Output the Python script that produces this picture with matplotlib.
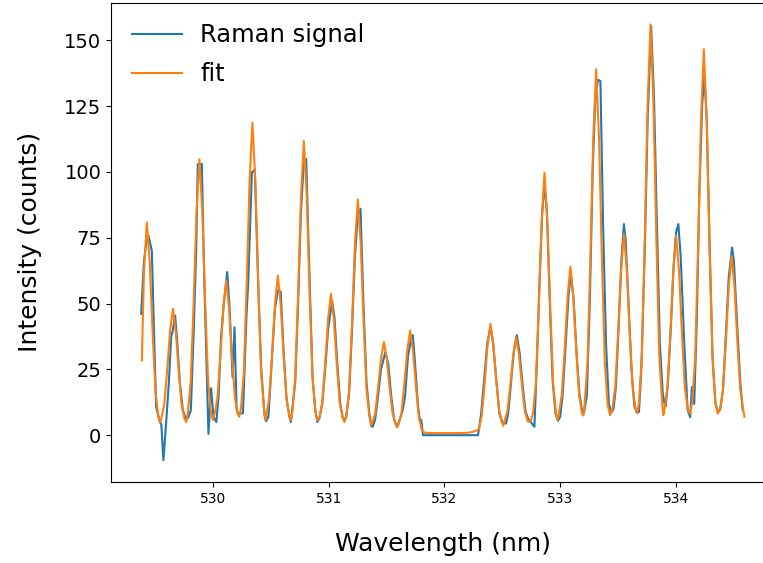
import matplotlib
matplotlib.use("Agg")
import matplotlib.pyplot as plt

# measured Raman signal (wavelength in nm, counts)
wl_signal = [
    529.381, 529.405, 529.425, 529.444, 529.473, 529.49, 529.51, 529.539, 529.555, 529.573, 529.597,
    529.62, 529.64, 529.655, 529.674, 529.69, 529.715, 529.741, 529.77, 529.79, 529.81,
    529.835, 529.856, 529.87, 529.905, 529.925, 529.942, 529.962, 529.985, 530.005, 530.03,
    530.05, 530.07, 530.095, 530.124, 530.145, 530.17, 530.187, 530.205, 530.216, 530.26,
    530.29, 530.305, 530.337, 530.362, 530.39, 530.417, 530.445, 530.46, 530.48,
    530.511, 530.536, 530.561, 530.586, 530.611, 530.636, 530.661, 530.674,
    530.711, 530.736, 530.761, 530.786, 530.806, 530.836, 530.861, 530.886, 530.903,
    530.92, 530.945, 530.97, 530.995, 531.03, 531.05, 531.075, 531.1, 531.12, 531.136,
    531.152, 531.177, 531.202, 531.227, 531.252, 531.275, 531.302, 531.327, 531.352, 531.37,
    531.38, 531.402, 531.427, 531.452, 531.49, 531.515, 531.54, 531.565, 531.59,
    531.615, 531.64, 531.66, 531.685, 531.71, 531.727, 531.745, 531.77, 531.785, 531.8, 531.815,
    531.9, 532.0, 532.1, 532.2, 532.29,
    532.317, 532.34, 532.37, 532.397, 532.42, 532.45, 532.475, 532.5, 532.532,
    532.55, 532.575, 532.6, 532.625, 532.65, 532.675, 532.7, 532.725, 532.745, 532.777,
    532.8, 532.82, 532.845, 532.864, 532.885, 532.91, 532.935, 532.96, 532.98,
    533.0, 533.02, 533.045, 533.07, 533.09, 533.115, 533.14, 533.165, 533.19, 533.205,
    533.23, 533.255, 533.28, 533.3, 533.325, 533.347, 533.37, 533.395, 533.42, 533.44,
    533.46, 533.48, 533.505, 533.53, 533.55, 533.565, 533.59, 533.615, 533.64, 533.66, 533.68,
    533.7, 533.73, 533.755, 533.785, 533.81, 533.835, 533.86, 533.885, 533.9, 533.91,
    533.93, 533.955, 533.98, 534.0, 534.02, 534.04, 534.071, 534.1, 534.122, 534.137, 534.157,
    534.18, 534.2, 534.225, 534.245, 534.265, 534.29, 534.315, 534.34, 534.36,
    534.38, 534.405, 534.43, 534.455, 534.484, 534.5, 534.53, 534.555, 534.576,
]
signal = [
    46.1, 66.0, 73.0, 75.8, 70.0, 42.0, 10.7, 5.7, 4.0, -9.5, 5.0,
    20.0, 37.2, 40.0, 45.5, 37.0, 20.0, 9.5, 5.7, 7.0, 9.5,
    40.0, 70.0, 103.0, 103.0, 60.0, 32.0, 0.5, 17.8, 7.0, 5.0,
    15.0, 37.0, 50.0, 62.0, 48.0, 22.0, 41.0, 10.0, 8.3, 8.3,
    45.0, 57.5, 99.7, 101.0, 60.0, 25.9, 8.0, 5.3, 7.0,
    30.0, 48.0, 55.0, 54.5, 32.0, 14.0, 7.0, 5.0,
    20.0, 50.0, 85.0, 104.0, 105.0, 58.0, 22.0, 9.0, 5.0,
    6.5, 12.0, 25.0, 40.0, 51.0, 45.0, 27.0, 12.0, 7.0, 5.5,
    7.0, 16.0, 40.0, 68.0, 84.0, 86.0, 48.0, 20.0, 8.0, 3.4,
    3.2, 6.0, 15.0, 25.0, 31.6, 27.0, 15.0, 6.0, 3.2,
    6.0, 9.5, 15.0, 30.0, 36.0, 38.0, 28.0, 12.0, 6.3, 5.7, 0.0,
    0.0, 0.0, 0.0, 0.0, 0.0,
    8.2, 20.0, 35.0, 41.0, 35.0, 20.0, 8.0, 5.0, 4.4,
    8.0, 20.0, 32.0, 38.0, 31.0, 19.0, 9.0, 6.0, 5.0, 3.2,
    30.0, 57.5, 85.0, 95.0, 85.0, 50.0, 20.0, 8.0, 5.5,
    7.0, 15.0, 33.0, 52.0, 61.4, 52.0, 32.0, 16.0, 9.0, 8.5,
    15.0, 50.0, 100.0, 125.0, 135.0, 134.5, 80.0, 35.0, 12.0, 8.5,
    10.0, 18.0, 42.0, 68.0, 80.2, 74.0, 50.0, 25.0, 11.0, 8.8, 8.8,
    25.0, 70.0, 120.0, 155.4, 128.0, 80.0, 35.0, 16.0, 12.0, 11.0,
    20.0, 41.0, 65.0, 77.0, 80.2, 68.0, 34.8, 9.6, 6.8, 18.3, 11.9,
    45.0, 90.0, 125.0, 137.0, 120.0, 72.0, 30.0, 12.0, 9.3,
    9.5, 17.0, 38.0, 60.0, 71.3, 66.0, 40.0, 20.0, 9.5,
]

# fitted curve
wl_fit = [
    529.387, 529.405, 529.43, 529.455, 529.48, 529.505, 529.53, 529.5425,
    529.555, 529.58, 529.605, 529.63, 529.655, 529.68, 529.705, 529.73, 529.755, 529.77,
    529.784, 529.809, 529.834, 529.859, 529.884, 529.909, 529.934, 529.959, 529.984, 530.0,
    530.015, 530.04, 530.065, 530.09, 530.115, 530.14, 530.165, 530.19, 530.215, 530.228,
    530.242, 530.267, 530.292, 530.317, 530.342, 530.367, 530.392, 530.417, 530.442, 530.452,
    530.461, 530.486, 530.511, 530.536, 530.561, 530.586, 530.611, 530.636, 530.661, 530.674,
    530.686, 530.711, 530.736, 530.761, 530.786, 530.811, 530.836, 530.861, 530.886, 530.903,
    530.92, 530.945, 530.97, 530.995, 531.02, 531.045, 531.07, 531.095, 531.12, 531.136,
    531.152, 531.177, 531.202, 531.227, 531.252, 531.277, 531.302, 531.327, 531.352, 531.365,
    531.377, 531.402, 531.427, 531.452, 531.477, 531.502, 531.527, 531.552, 531.577, 531.59,
    531.604, 531.629, 531.654, 531.679, 531.704, 531.729, 531.754, 531.779, 531.804, 531.83,
    531.9, 532.0, 532.1, 532.2, 532.25,
    532.297, 532.322, 532.347, 532.372, 532.397, 532.422, 532.447, 532.472, 532.497, 532.508,
    532.519, 532.544, 532.569, 532.594, 532.619, 532.644, 532.669, 532.694, 532.719, 532.74,
    532.764, 532.789, 532.814, 532.839, 532.864, 532.889, 532.914, 532.939, 532.964, 532.976,
    532.988, 533.013, 533.038, 533.063, 533.088, 533.113, 533.138, 533.163, 533.188, 533.2,
    533.21, 533.235, 533.26, 533.285, 533.31, 533.335, 533.36, 533.385, 533.41, 533.43,
    533.45, 533.475, 533.5, 533.525, 533.55, 533.575, 533.6, 533.625, 533.65, 533.665,
    533.68, 533.705, 533.73, 533.755, 533.78, 533.805, 533.83, 533.855, 533.88, 533.89,
    533.901, 533.926, 533.951, 533.976, 534.001, 534.026, 534.051, 534.076, 534.101, 534.12,
    534.14, 534.165, 534.19, 534.215, 534.24, 534.265, 534.29, 534.315, 534.34, 534.36,
    534.38, 534.405, 534.43, 534.455, 534.48, 534.505, 534.53, 534.555, 534.58, 534.59,
]
fit = [
    28.4, 62.0, 80.8, 65.6, 39.0, 16.1, 7.0, 4.7,
    6.3, 11.5, 24.4, 39.4, 48.0, 39.4, 24.4, 11.5, 6.3, 5.0,
    8.5, 20.4, 50.2, 84.9, 104.8, 84.9, 50.2, 20.4, 8.5, 5.8,
    8.1, 14.3, 30.0, 48.3, 58.7, 48.3, 30.0, 14.3, 8.1, 7.0,
    9.9, 23.3, 57.0, 96.3, 118.7, 96.3, 57.0, 23.3, 9.9, 5.7,
    7.3, 13.9, 30.4, 49.6, 60.6, 49.6, 30.4, 13.9, 7.3, 5.7,
    8.8, 21.5, 53.3, 90.5, 111.7, 90.5, 53.3, 21.5, 8.8, 5.5,
    6.7, 12.5, 27.0, 44.0, 53.7, 44.0, 27.0, 12.5, 6.7, 5.0,
    7.1, 17.3, 42.8, 72.6, 89.6, 72.6, 42.8, 17.3, 7.1, 3.8,
    4.5, 8.3, 17.9, 29.0, 35.4, 29.0, 17.9, 8.3, 4.5, 3.0,
    4.1, 8.5, 19.3, 32.4, 39.8, 32.0, 18.3, 6.6, 2.0, 0.9,
    0.8, 0.8, 0.8, 0.9, 1.3,
    2.2, 7.2, 19.6, 34.0, 42.3, 34.6, 21.0, 9.4, 4.8, 3.6,
    5.3, 9.2, 19.1, 30.6, 37.2, 30.6, 19.1, 9.2, 5.3, 5.0,
    8.1, 19.5, 47.8, 80.8, 99.7, 80.8, 47.8, 19.5, 8.1, 5.7,
    8.2, 15.1, 32.4, 52.5, 64.0, 52.5, 32.4, 15.1, 8.2, 7.5,
    11.5, 27.3, 66.7, 112.7, 139.0, 112.7, 66.7, 27.3, 11.5, 7.6,
    10.1, 18.3, 38.8, 62.7, 76.4, 62.7, 38.8, 18.3, 10.1, 8.3,
    12.4, 30.2, 74.6, 126.4, 156.0, 126.4, 74.6, 30.2, 12.4, 7.6,
    10.0, 18.2, 38.5, 62.2, 75.8, 62.2, 38.5, 18.2, 10.0, 8.2,
    12.4, 29.0, 70.5, 118.9, 146.6, 118.9, 70.5, 29.0, 12.4, 8.2,
    9.8, 17.0, 35.1, 56.2, 68.2, 56.2, 35.1, 17.0, 9.8, 7.0,
]

fig = plt.figure(figsize=(7.63, 5.63), dpi=100)
ax = fig.add_axes([0.1455, 0.1439, 0.8696, 0.8513])

ax.plot(wl_signal, signal, label='Raman signal')
ax.plot(wl_fit, fit, label='fit')

ax.set_xlabel('Wavelength (nm)', fontsize=18, labelpad=19)
ax.set_ylabel('Intensity (counts)', fontsize=18, labelpad=16)
ax.tick_params(axis='x', labelsize=10)
ax.tick_params(axis='y', labelsize=14)
ax.set_yticks([0, 25, 50, 75, 100, 125, 150])
ax.legend(loc='upper left', fontsize=17.5, frameon=False, handlelength=2.07,
          handletextpad=0.75, borderaxespad=0.45, labelspacing=0.62)

fig.savefig('out.png', dpi=100)
